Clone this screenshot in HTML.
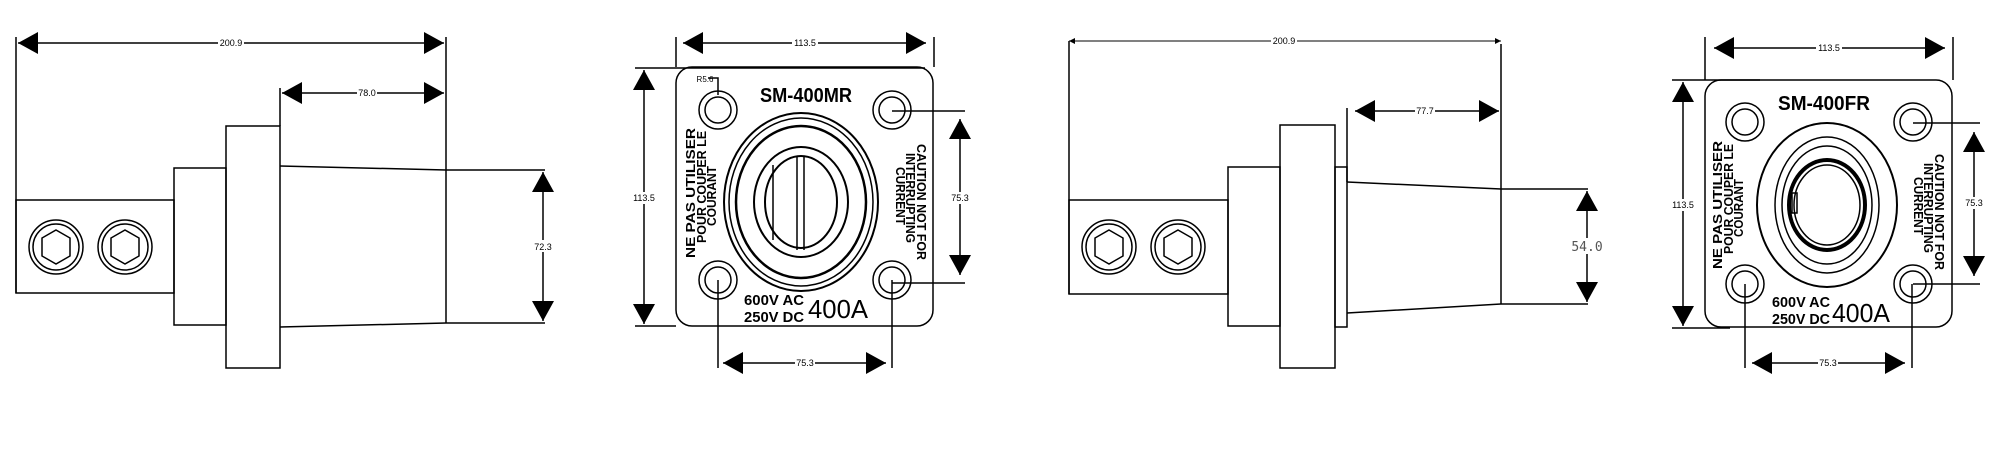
<!DOCTYPE html>
<html><head><meta charset="utf-8"><style>
html,body{margin:0;padding:0;background:#fff;}
svg{display:block;}
.d{font-family:"Liberation Sans",sans-serif;font-size:9px;fill:#000;}
.b{font-family:"Liberation Sans",sans-serif;font-weight:bold;fill:#000;}
</style></head><body>
<svg width="1999" height="453" viewBox="0 0 1999 453" xmlns="http://www.w3.org/2000/svg">
<defs>
<marker id="a" markerUnits="userSpaceOnUse" markerWidth="20" markerHeight="22" viewBox="0 0 20 22" refX="20" refY="11" orient="auto-start-reverse"><path d="M0,0 L20,11 L0,22 z" fill="#000"/></marker>
<marker id="s" markerUnits="userSpaceOnUse" markerWidth="6" markerHeight="6" viewBox="0 0 6 6" refX="6" refY="3" orient="auto-start-reverse"><path d="M0,0 L6,3 L0,6 z" fill="#000"/></marker>
</defs>
<g fill="none" stroke="#000" stroke-width="1.5">
<!-- ===== Side view MR ===== -->
<line x1="16" y1="37" x2="16" y2="293"/>
<line x1="446" y1="37" x2="446" y2="323"/>
<line x1="18" y1="43" x2="444" y2="43" marker-start="url(#a)" marker-end="url(#a)"/>
<line x1="280" y1="88" x2="280" y2="126"/>
<line x1="282" y1="93" x2="444" y2="93" marker-start="url(#a)" marker-end="url(#a)"/>
<rect x="16" y="200" width="158" height="93"/>
<rect x="174" y="168" width="52" height="157"/>
<rect x="226" y="126" width="54" height="242"/>
<path d="M280,166 L446,170 M280,327 L446,323"/>
<line x1="446" y1="170" x2="545" y2="170"/>
<line x1="446" y1="323" x2="545" y2="323"/>
<line x1="543" y1="172" x2="543" y2="321" marker-start="url(#a)" marker-end="url(#a)"/>
<circle cx="56" cy="247" r="27"/><circle cx="56" cy="247" r="23"/>
<polygon points="56,230 70,238 70,256 56,264 42,256 42,238"/>
<circle cx="125" cy="247" r="27"/><circle cx="125" cy="247" r="23"/>
<polygon points="125,230 139,238 139,256 125,264 111,256 111,238"/>

<!-- ===== Front view MR ===== -->
<rect x="676" y="67" width="257" height="259" rx="16"/>
<line x1="635" y1="68" x2="925" y2="68"/>
<line x1="635" y1="326" x2="676" y2="326"/>
<line x1="676" y1="37" x2="676" y2="67"/>
<line x1="934" y1="37" x2="934" y2="67"/>
<line x1="683" y1="43" x2="926" y2="43" marker-start="url(#a)" marker-end="url(#a)"/>
<line x1="644" y1="70" x2="644" y2="324" marker-start="url(#a)" marker-end="url(#a)"/>
<ellipse cx="718" cy="110" rx="19" ry="19"/><ellipse cx="718" cy="110" rx="13" ry="13"/>
<ellipse cx="892" cy="110" rx="19" ry="19"/><ellipse cx="892" cy="110" rx="13" ry="13"/>
<ellipse cx="718" cy="280" rx="19" ry="19"/><ellipse cx="718" cy="280" rx="13" ry="13"/>
<ellipse cx="892" cy="280" rx="19" ry="19"/><ellipse cx="892" cy="280" rx="13" ry="13"/>
<path d="M708,78 L718,78 L718,95"/>
<ellipse cx="801" cy="202" rx="77" ry="89" stroke-width="2"/>
<ellipse cx="801" cy="202" rx="72" ry="84"/>
<ellipse cx="801" cy="202" rx="65" ry="76" stroke-width="2.5"/>
<ellipse cx="801" cy="202" rx="47" ry="55" stroke-width="2"/>
<ellipse cx="801" cy="202" rx="36" ry="46" stroke-width="2"/>
<path d="M773,165 L773,240 M797,157 L797,250 M804,157 L804,250"/>
<line x1="892" y1="111" x2="965" y2="111"/>
<line x1="892" y1="283" x2="965" y2="283"/>
<line x1="960" y1="119" x2="960" y2="275" marker-start="url(#a)" marker-end="url(#a)"/>
<line x1="718" y1="280" x2="718" y2="368"/>
<line x1="892" y1="280" x2="892" y2="368"/>
<line x1="723" y1="363" x2="886" y2="363" marker-start="url(#a)" marker-end="url(#a)"/>

<!-- ===== Side view FR ===== -->
<line x1="1069" y1="41" x2="1069" y2="294"/>
<line x1="1501" y1="44" x2="1501" y2="304"/>
<line x1="1069" y1="41" x2="1501" y2="41" stroke-width="1" marker-start="url(#s)" marker-end="url(#s)"/>
<line x1="1347" y1="108" x2="1347" y2="182"/>
<line x1="1355" y1="111" x2="1499" y2="111" marker-start="url(#a)" marker-end="url(#a)"/>
<rect x="1069" y="200" width="159" height="94"/>
<rect x="1228" y="167" width="52" height="159"/>
<rect x="1280" y="125" width="55" height="243"/>
<rect x="1335" y="167" width="12" height="160"/>
<path d="M1347,182 L1501,189 M1347,313 L1501,304"/>
<line x1="1501" y1="189" x2="1588" y2="189"/>
<line x1="1501" y1="304" x2="1588" y2="304"/>
<line x1="1587" y1="191" x2="1587" y2="302" marker-start="url(#a)" marker-end="url(#a)"/>
<circle cx="1109" cy="247" r="27"/><circle cx="1109" cy="247" r="23"/>
<polygon points="1109,230 1123,238 1123,256 1109,264 1095,256 1095,238"/>
<circle cx="1178" cy="247" r="27"/><circle cx="1178" cy="247" r="23"/>
<polygon points="1178,230 1192,238 1192,256 1178,264 1164,256 1164,238"/>

<!-- ===== Front view FR ===== -->
<rect x="1705" y="80" width="247" height="247" rx="16"/>
<line x1="1672" y1="80" x2="1760" y2="80"/>
<line x1="1672" y1="328" x2="1730" y2="328"/>
<line x1="1705" y1="37" x2="1705" y2="80"/>
<line x1="1953" y1="37" x2="1953" y2="80"/>
<line x1="1714" y1="48" x2="1945" y2="48" marker-start="url(#a)" marker-end="url(#a)"/>
<line x1="1683" y1="82" x2="1683" y2="326" marker-start="url(#a)" marker-end="url(#a)"/>
<ellipse cx="1745" cy="122" rx="19" ry="19"/><ellipse cx="1745" cy="122" rx="13" ry="13"/>
<ellipse cx="1913" cy="122" rx="19" ry="19"/><ellipse cx="1913" cy="122" rx="13" ry="13"/>
<ellipse cx="1745" cy="284" rx="19" ry="19"/><ellipse cx="1745" cy="284" rx="13" ry="13"/>
<ellipse cx="1913" cy="284" rx="19" ry="19"/><ellipse cx="1913" cy="284" rx="13" ry="13"/>
<ellipse cx="1827" cy="205" rx="70" ry="82" stroke-width="2"/>
<ellipse cx="1827" cy="205" rx="52" ry="68"/>
<ellipse cx="1827" cy="205" rx="45" ry="59"/>
<ellipse cx="1827" cy="205" rx="38" ry="45" stroke-width="4"/>
<ellipse cx="1827" cy="205" rx="33" ry="40"/>
<rect x="1792" y="193" width="5" height="20"/>
<line x1="1913" y1="123" x2="1980" y2="123"/>
<line x1="1913" y1="284" x2="1980" y2="284"/>
<line x1="1974" y1="132" x2="1974" y2="276" marker-start="url(#a)" marker-end="url(#a)"/>
<line x1="1745" y1="284" x2="1745" y2="368"/>
<line x1="1912" y1="284" x2="1912" y2="368"/>
<line x1="1752" y1="363" x2="1905" y2="363" marker-start="url(#a)" marker-end="url(#a)"/>
</g>

<!-- dimension texts -->
<g class="d" text-anchor="middle">
<rect x="218" y="38" width="26" height="10" fill="#fff"/><text x="231" y="46">200.9</text>
<rect x="357" y="88" width="20" height="10" fill="#fff"/><text x="367" y="96">78.0</text>
<rect x="533" y="240" width="20" height="12" fill="#fff"/><text x="543" y="250">72.3</text>
<rect x="792" y="38" width="26" height="10" fill="#fff"/><text x="805" y="46">113.5</text>
<rect x="632" y="192" width="24" height="12" fill="#fff"/><text x="644" y="201">113.5</text>
<rect x="950" y="192" width="20" height="12" fill="#fff"/><text x="960" y="201">75.3</text>
<rect x="795" y="358" width="20" height="10" fill="#fff"/><text x="805" y="366">75.3</text>
<text x="705" y="82" font-size="8">R5.6</text>
<rect x="1271" y="36" width="26" height="10" fill="#fff"/><text x="1284" y="44">200.9</text>
<rect x="1415" y="106" width="20" height="10" fill="#fff"/><text x="1425" y="114">77.7</text>
<rect x="1574" y="238" width="26" height="16" fill="#fff"/><text x="1587" y="251" font-family="'DejaVu Sans Mono',monospace" font-size="13" fill="#555">54.0</text>
<rect x="1816" y="43" width="26" height="10" fill="#fff"/><text x="1829" y="51">113.5</text>
<rect x="1671" y="199" width="24" height="12" fill="#fff"/><text x="1683" y="208">113.5</text>
<rect x="1964" y="197" width="20" height="12" fill="#fff"/><text x="1974" y="206">75.3</text>
<rect x="1818" y="358" width="20" height="10" fill="#fff"/><text x="1828" y="366">75.3</text>
</g>

<!-- MR labels -->
<g class="b">
<text x="806" y="102" font-size="20" text-anchor="middle" textLength="92" lengthAdjust="spacingAndGlyphs">SM-400MR</text>
<text x="744" y="305" font-size="15" textLength="60" lengthAdjust="spacingAndGlyphs">600V AC</text>
<text x="744" y="322" font-size="15" textLength="60" lengthAdjust="spacingAndGlyphs">250V DC</text>
<text x="808" y="318" font-size="26" font-weight="normal" textLength="60" lengthAdjust="spacingAndGlyphs">400A</text>
<g transform="translate(699,193) rotate(-90)" font-size="13" text-anchor="middle">
<text x="0" y="-4" textLength="130" lengthAdjust="spacingAndGlyphs">NE PAS UTILISER</text>
<text x="6" y="7" textLength="112" lengthAdjust="spacingAndGlyphs">POUR COUPER LE</text>
<text x="-3" y="17" textLength="60" lengthAdjust="spacingAndGlyphs">COURANT</text>
</g>
<g transform="translate(912,202) rotate(90)" font-size="13" text-anchor="middle">
<text x="0" y="-5" textLength="116" lengthAdjust="spacingAndGlyphs">CAUTION NOT FOR</text>
<text x="-4" y="6" textLength="90" lengthAdjust="spacingAndGlyphs">INTERRUPTING</text>
<text x="-6" y="16" textLength="58" lengthAdjust="spacingAndGlyphs">CURRENT</text>
</g>
</g>

<!-- FR labels -->
<g class="b">
<text x="1824" y="110" font-size="20" text-anchor="middle" textLength="92" lengthAdjust="spacingAndGlyphs">SM-400FR</text>
<text x="1772" y="307" font-size="15" textLength="58" lengthAdjust="spacingAndGlyphs">600V AC</text>
<text x="1772" y="324" font-size="15" textLength="58" lengthAdjust="spacingAndGlyphs">250V DC</text>
<text x="1832" y="322" font-size="26" font-weight="normal" textLength="58" lengthAdjust="spacingAndGlyphs">400A</text>
<g transform="translate(1726,205) rotate(-90)" font-size="13" text-anchor="middle">
<text x="0" y="-4" textLength="128" lengthAdjust="spacingAndGlyphs">NE PAS UTILISER</text>
<text x="6" y="7" textLength="110" lengthAdjust="spacingAndGlyphs">POUR COUPER LE</text>
<text x="-3" y="17" textLength="58" lengthAdjust="spacingAndGlyphs">COURANT</text>
</g>
<g transform="translate(1930,212) rotate(90)" font-size="13" text-anchor="middle">
<text x="0" y="-5" textLength="116" lengthAdjust="spacingAndGlyphs">CAUTION NOT FOR</text>
<text x="-4" y="6" textLength="90" lengthAdjust="spacingAndGlyphs">INTERRUPTING</text>
<text x="-6" y="16" textLength="58" lengthAdjust="spacingAndGlyphs">CURRENT</text>
</g>
</g>
</svg>
</body></html>
